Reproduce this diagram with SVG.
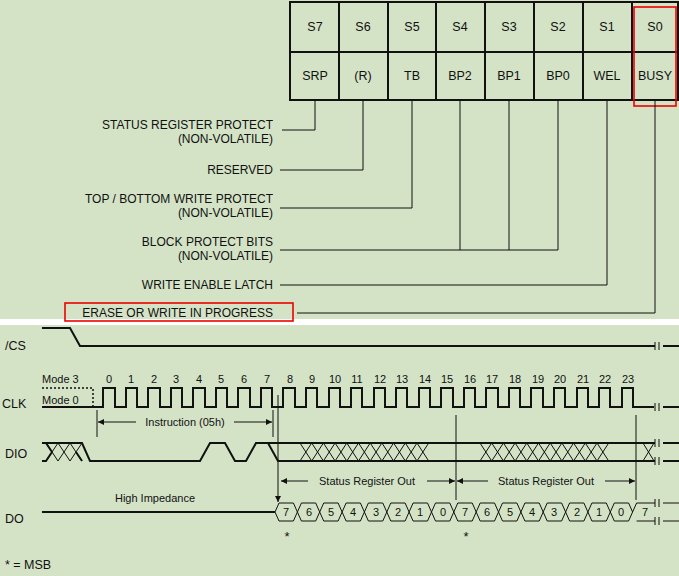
<svg xmlns="http://www.w3.org/2000/svg" width="679" height="576" viewBox="0 0 679 576">
<style>
text{font-family:"Liberation Sans",Arial,sans-serif;fill:#111}
.t{font-size:12px}
.r{text-anchor:end}
.c{text-anchor:middle}
.w{fill:none;stroke:#111;stroke-width:2}
.n{fill:none;stroke:#111;stroke-width:1}
.red{fill:none;stroke:#e00;stroke-width:1.6}
</style>
<defs>
<marker id="a" viewBox="0 0 10 10" refX="10" refY="5" markerWidth="8" markerHeight="6" orient="auto-start-reverse" markerUnits="userSpaceOnUse"><path d="M0,0L10,5L0,10z" fill="#111"/></marker>
</defs>
<rect width="679" height="576" fill="#d4e3c6"/>
<rect y="319" width="679" height="6" fill="#fff"/>
<g id="register">
<rect x="290" y="2" width="388" height="98" fill="none" stroke="#111" stroke-width="2"/>
<path class="w" d="M290 52H678M339 2V100M388 2V100M436 2V100M485 2V100M534 2V100M583 2V100M632 2V100"/>
<g font-size="12.5">
<text x="315" y="31" class="c">S7</text><text x="363" y="31" class="c">S6</text><text x="412" y="31" class="c">S5</text><text x="460" y="31" class="c">S4</text><text x="509" y="31" class="c">S3</text><text x="558" y="31" class="c">S2</text><text x="607" y="31" class="c">S1</text><text x="655" y="31" class="c">S0</text>
<text x="315" y="80" class="c">SRP</text><text x="363" y="80" class="c">(R)</text><text x="412" y="80" class="c">TB</text><text x="460" y="80" class="c">BP2</text><text x="509" y="80" class="c">BP1</text><text x="558" y="80" class="c">BP0</text><text x="607" y="80" class="c">WEL</text><text x="655" y="80" class="c">BUSY</text>
</g>
<rect x="634" y="7" width="42" height="99" class="red"/>
</g>
<g id="labels" class="t">
<text x="273" y="129" class="r">STATUS REGISTER PROTECT</text>
<text x="273" y="143" class="r">(NON-VOLATILE)</text>
<text x="273" y="174" class="r">RESERVED</text>
<text x="273" y="203" class="r">TOP / BOTTOM WRITE PROTECT</text>
<text x="273" y="217" class="r">(NON-VOLATILE)</text>
<text x="273" y="246" class="r">BLOCK PROTECT BITS</text>
<text x="273" y="260" class="r">(NON-VOLATILE)</text>
<text x="273" y="289" class="r">WRITE ENABLE LATCH</text>
<text x="273" y="317" class="r">ERASE OR WRITE IN PROGRESS</text>
<rect x="65" y="303" width="228" height="18" class="red"/>
</g>
<g id="connectors" class="n">
<path d="M315 100V130H282M363 100V170H280M412 100V208H280M460 100V250M509 100V250M558 100V250H280M607 100V285H280M655 100V313H297"/>
</g>
<g id="timing">
<g font-size="12.5">
<text x="5" y="350">/CS</text><text x="2" y="408">CLK</text><text x="5" y="458">DIO</text><text x="5" y="523">DO</text>
<text x="42" y="383" font-size="11">Mode 3</text><text x="42" y="404" font-size="11">Mode 0</text>
<text x="155" y="502" class="c" font-size="11">High Impedance</text>
<text x="5" y="569">* = MSB</text>
</g>
<g font-size="11" class="c">
<text x="109" y="383">0</text><text x="131" y="383">1</text><text x="154" y="383">2</text><text x="176" y="383">3</text><text x="199" y="383">4</text><text x="221" y="383">5</text><text x="244" y="383">6</text><text x="267" y="383">7</text><text x="290" y="383">8</text><text x="312" y="383">9</text><text x="335" y="383">10</text><text x="357" y="383">11</text><text x="380" y="383">12</text><text x="402" y="383">13</text><text x="425" y="383">14</text><text x="447" y="383">15</text><text x="470" y="383">16</text><text x="492" y="383">17</text><text x="515" y="383">18</text><text x="538" y="383">19</text><text x="560" y="383">20</text><text x="583" y="383">21</text><text x="605" y="383">22</text><text x="628" y="383">23</text>
</g>
<path class="w" d="M42 328H70L80 346H655M663 346H679"/>
<path d="M42 388H93V407" fill="none" stroke="#111" stroke-width="1.5" stroke-dasharray="2,2"/>
<path class="w" d="M42 407H103V388H115V407H126V388H137V407H148V388H160V407H171V388H182V407H193V388H205V407H216V388H227V407H238V388H250V407H261V388H272V407H283V388H295V407H306V388H317V407H329V388H340V407H351V388H362V407H374V388H385V407H396V388H407V407H419V388H430V407H441V388H453V407H464V388H475V407H486V388H498V407H509V388H520V407H531V388H543V407H554V388H565V407H577V388H588V407H599V388H610V407H622V388H633V407H654M663 407H679"/>
<path class="w" d="M42 443H82L90 461H200L210 443H225L235 461H246L256 443H268L278 461H655M268 443H655M663 443H679M663 461H679M42 461H46L52 452L46 443M82 461L76 452"/>
<path class="n" stroke-width="1.5" d="M46 443L58 461M46 461L58 443M58 443L70 461M58 461L70 443M70 443L82 461M70 461L82 443"/>
<path class="n" stroke-width="1.2" d="M300 443l11.7 18m0-18l-11.7 18M311.7 443l11.7 18m0-18l-11.7 18M323.4 443l11.7 18m0-18l-11.7 18M335.1 443l11.7 18m0-18l-11.7 18M346.8 443l11.7 18m0-18l-11.7 18M358.5 443l11.7 18m0-18l-11.7 18M370.2 443l11.7 18m0-18l-11.7 18M381.9 443l11.7 18m0-18l-11.7 18M393.6 443l11.7 18m0-18l-11.7 18M405.3 443l11.7 18m0-18l-11.7 18M417 443l11.7 18m0-18l-11.7 18M480 443l11.7 18m0-18l-11.7 18M491.7 443l11.7 18m0-18l-11.7 18M503.4 443l11.7 18m0-18l-11.7 18M515.1 443l11.7 18m0-18l-11.7 18M526.8 443l11.7 18m0-18l-11.7 18M538.5 443l11.7 18m0-18l-11.7 18M550.2 443l11.7 18m0-18l-11.7 18M561.9 443l11.7 18m0-18l-11.7 18M573.6 443l11.7 18m0-18l-11.7 18M585.3 443l11.7 18m0-18l-11.7 18M597 443l11.7 18m0-18l-11.7 18M643 443l11 18m0-18l-11 18"/>
<path class="n" d="M655 342v8M659 342v8M655 403v8M659 403v8M655 439v8M659 439v8M655 457v8M659 457v8M655 499v8M659 499v8M655 517v8M659 517v8"/>
<path class="w" d="M42 512H275"/>
<path class="n" stroke-width="1.6" d="M275 512L279 503H293.4L297.4 512L293.4 521H279Z M297.4 512L301.4 503H315.7L319.7 512L315.7 521H301.4Z M319.7 512L323.7 503H338.1L342.1 512L338.1 521H323.7Z M342.1 512L346.1 503H360.4L364.4 512L360.4 521H346.1Z M364.4 512L368.4 503H382.8L386.8 512L382.8 521H368.4Z M386.8 512L390.8 503H405.1L409.1 512L405.1 521H390.8Z M409.1 512L413.1 503H427.5L431.5 512L427.5 521H413.1Z M431.5 512L435.5 503H449.8L453.8 512L449.8 521H435.5Z M453.8 512L457.8 503H472.2L476.2 512L472.2 521H457.8Z M476.2 512L480.2 503H494.5L498.5 512L494.5 521H480.2Z M498.5 512L502.5 503H516.9L520.9 512L516.9 521H502.5Z M520.9 512L524.9 503H539.2L543.2 512L539.2 521H524.9Z M543.2 512L547.2 503H561.6L565.6 512L561.6 521H547.2Z M565.6 512L569.6 503H583.9L587.9 512L583.9 521H569.6Z M587.9 512L591.9 503H606.3L610.3 512L606.3 521H591.9Z M610.3 512L614.3 503H628.6L632.6 512L628.6 521H614.3Z M632.6 512L636.6 503H655M636.6 521H655M663 503H679M663 521H679"/>
<g font-size="11" class="c">
<text x="286" y="516">7</text><text x="309" y="516">6</text><text x="331" y="516">5</text><text x="353" y="516">4</text><text x="376" y="516">3</text><text x="398" y="516">2</text><text x="420" y="516">1</text><text x="443" y="516">0</text><text x="465" y="516">7</text><text x="487" y="516">6</text><text x="510" y="516">5</text><text x="532" y="516">4</text><text x="554" y="516">3</text><text x="577" y="516">2</text><text x="599" y="516">1</text><text x="621" y="516">0</text><text x="645" y="516">7</text>
<text x="287" y="541" font-size="13">*</text><text x="466" y="541" font-size="13">*</text>
</g>
<path class="n" d="M97 410V437M273 410V437M456 415V500M636 415V500"/>
<path class="n" d="M278 395V502" marker-end="url(#a)"/>
<text x="185" y="426" class="c" font-size="11">Instruction (05h)</text>
<path class="n" d="M98 422H136" marker-start="url(#a)"/>
<path class="n" d="M234 422H272" marker-end="url(#a)"/>
<text x="367" y="485" class="c" font-size="11">Status Register Out</text>
<text x="546" y="485" class="c" font-size="11">Status Register Out</text>
<path class="n" d="M281 481H308" marker-start="url(#a)"/>
<path class="n" d="M427 481H455" marker-end="url(#a)"/>
<path class="n" d="M457 481H488" marker-start="url(#a)"/>
<path class="n" d="M605 481H635" marker-end="url(#a)"/>
</g>
</svg>
